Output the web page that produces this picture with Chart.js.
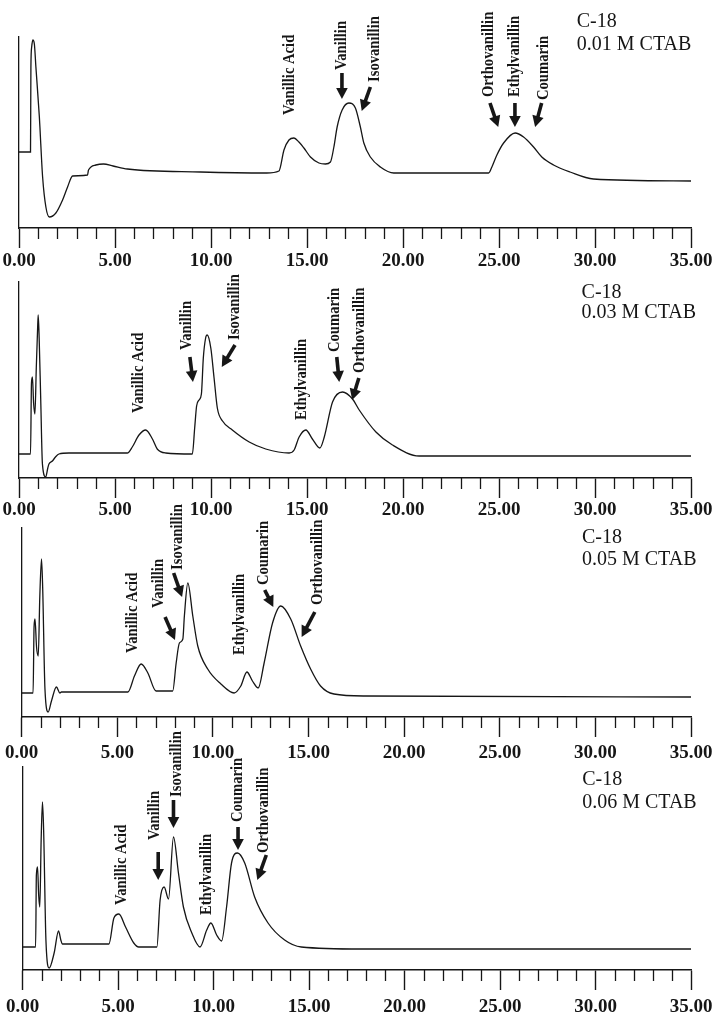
<!DOCTYPE html>
<html><head><meta charset="utf-8">
<script src="https://cdn.jsdelivr.net/npm/chart.js@4.4.1/dist/chart.umd.min.js"></script>
<style>
html,body{margin:0;padding:0;background:#fff;}
#wrap{position:relative;width:720px;height:1018px;overflow:hidden;background:#fff;}
canvas{position:absolute;left:0;}
</style></head><body><div id="wrap">
<canvas id="c1"></canvas><canvas id="c2"></canvas><canvas id="c3"></canvas><canvas id="c4"></canvas>
</div>
<script>
// ---- data (retention time in min, detector signal in arbitrary units) ----
const timeTicks = [0, 5, 10, 15, 20, 25, 30, 35];
const column = 'C-18';
const conditions = ['0.01 M CTAB', '0.03 M CTAB', '0.05 M CTAB', '0.06 M CTAB'];
const signalMax = [191, 196, 189, 203];

const run1 = [[0,76],[0.6,76],[0.62,161],[0.66,181],[0.72,188],[0.8,184],[0.88,161],[1.06,111],[1.23,51],[1.4,21],[1.58,11],[1.92,15],[2.27,28],[2.53,41],[2.79,52],[3.57,53],[3.62,58],[4.0,63],[4.4,64],[4.9,62],[5.65,59],[9.46,56],[12.9,55],[13.54,57],[13.8,78],[14.06,88],[14.32,90],[14.58,86],[14.84,80],[15.18,71],[15.62,65],[15.96,64],[16.22,66],[16.4,81],[16.57,101],[16.83,118],[17.18,125],[17.52,120],[17.78,101],[17.96,85],[18.3,71],[18.82,61],[19.52,55],[22,55],[24.46,55],[24.63,61],[24.89,73],[25.24,85],[25.84,95],[26.28,91],[26.8,81],[27.23,71],[27.84,63],[28.7,56],[29.92,49],[35,47]];
const run2 = [[0,24],[0.6,24],[0.65,95],[0.7,101],[0.76,75],[0.83,64],[0.9,110],[0.97,150],[1.0,163],[1.05,140],[1.13,80],[1.22,14],[1.39,1],[1.5,10],[1.56,14],[1.74,17],[1.9,21],[2.08,24],[2.6,25],[5.64,25],[5.9,31],[6.25,43],[6.6,48],[6.95,39],[7.2,29],[7.64,25],[9.03,24],[9.15,50],[9.25,72],[9.38,78],[9.5,84],[9.6,120],[9.72,140],[9.8,143],[9.99,130],[10.16,100],[10.33,70],[10.6,57],[11.11,48],[11.99,36],[12.85,29],[14.07,25],[14.33,28],[14.59,41],[14.94,48],[15.28,39],[15.67,30],[15.9,41],[16.33,76],[16.85,86],[17.37,79],[17.72,68],[18.59,46],[19.45,33],[20.84,22],[35,22]];
const run3 = [[0,24],[0.6,24],[0.65,90],[0.7,98],[0.78,70],[0.87,61],[0.95,120],[1.04,158],[1.1,130],[1.22,28],[1.39,5],[1.56,16],[1.82,30],[2.0,24],[2.08,25],[5.56,25],[5.9,41],[6.25,53],[6.6,44],[7.03,26],[7.9,26],[8.08,54],[8.25,74],[8.43,78],[8.51,101],[8.69,134],[8.95,101],[9.21,71],[9.73,48],[10.42,33],[11.11,24],[11.46,31],[11.78,45],[12.07,36],[12.37,29],[12.68,54],[13.12,94],[13.55,111],[14.07,98],[14.59,71],[15.11,48],[15.63,31],[16.33,23],[18,21],[35,20]];
const run4 = [[0,23],[0.68,23],[0.72,95],[0.78,103],[0.84,75],[0.9,63],[0.97,130],[1.04,168],[1.1,140],[1.22,30],[1.39,2],[1.65,17],[1.88,39],[2.0,30],[2.08,26],[4.52,26],[4.78,52],[5.04,56],[5.39,43],[5.82,27],[6.08,23],[7.03,23],[7.2,70],[7.41,83],[7.64,71],[7.9,133],[8.16,97],[8.42,63],[8.86,37],[9.29,23],[9.64,40],[9.86,47],[10.16,35],[10.42,29],[10.68,63],[10.94,107],[11.25,117],[11.63,107],[12.15,73],[12.85,47],[13.72,30],[14.59,23],[17.72,21],[35,21]];

// ---- peak label placement (time, signal) ----
const peaks1 = [
  {name:'Vanillic Acid', t:14.11, y:113},
  {name:'Vanillin', t:16.82, y:158, arrow:[16.82,155,16.82,129]},
  {name:'Isovanillin', t:18.54, y:146, arrow:[18.3,141,17.85,117]},
  {name:'Orthovanillin', t:24.44, y:131, arrow:[24.53,125,24.96,101]},
  {name:'Ethylvanillin', t:25.83, y:131, arrow:[25.83,125,25.83,101]},
  {name:'Coumarin', t:27.31, y:128, arrow:[27.22,125,26.88,101]}
];
const peaks2 = [
  {name:'Vanillic Acid', t:6.21, y:65},
  {name:'Vanillin', t:8.73, y:128, arrow:[8.9,121,9.06,96]},
  {name:'Isovanillin', t:11.25, y:138, arrow:[11.25,133,10.56,111]},
  {name:'Ethylvanillin', t:14.72, y:58},
  {name:'Coumarin', t:16.46, y:126, arrow:[16.55,121,16.68,96]},
  {name:'Orthovanillin', t:17.76, y:105, arrow:[17.7,100,17.35,78]}
];
const peaks3 = [
  {name:'Vanillic Acid', t:5.78, y:64},
  {name:'Vanillin', t:7.17, y:109, arrow:[7.5,100,8.02,77]},
  {name:'Isovanillin', t:8.13, y:147, arrow:[7.95,144,8.39,120]},
  {name:'Ethylvanillin', t:11.42, y:62},
  {name:'Coumarin', t:12.64, y:132, arrow:[12.71,127,13.16,110]},
  {name:'Orthovanillin', t:15.5, y:112, arrow:[15.33,105,14.64,80]}
];
const peaks4 = [
  {name:'Vanillic Acid', t:5.17, y:65},
  {name:'Vanillin', t:6.91, y:130, arrow:[7.1,118,7.1,90]},
  {name:'Isovanillin', t:8.04, y:173, arrow:[7.9,170,7.9,142]},
  {name:'Ethylvanillin', t:9.64, y:55},
  {name:'Coumarin', t:11.28, y:148, arrow:[11.28,143,11.28,120]},
  {name:'Orthovanillin', t:12.64, y:117, arrow:[12.76,115,12.29,90]}
];
const condPos = [[29.05,206,183],[29.3,185,165],[29.3,179,157],[29.3,190,167]];

// ---- layout per panel ----
const layoutCfg = [
  {top:0,   height:275, padTop:37, axisH:47, labelPad:2},
  {top:250, height:272, padTop:32, axisH:44, labelPad:1},
  {top:495, height:270, padTop:33, axisH:48, labelPad:5},
  {top:730, height:288, padTop:37, axisH:48, labelPad:6}
];
const runs = [run1, run2, run3, run4];
const peaks = [peaks1, peaks2, peaks3, peaks4];
const INK = '#161616';
const SERIF = '"Liberation Serif", "Times New Roman", serif';

function drawArrow(ctx, x1, y1, x2, y2) {
  const dx = x2 - x1, dy = y2 - y1, L = Math.hypot(dx, dy), ux = dx / L, uy = dy / L;
  const hl = 11, hw = 5.8;
  const bx = x2 - ux * hl, by = y2 - uy * hl;
  ctx.lineWidth = 3.6; ctx.lineCap = 'butt';
  ctx.beginPath(); ctx.moveTo(x1, y1); ctx.lineTo(bx + ux, by + uy); ctx.stroke();
  ctx.beginPath(); ctx.moveTo(x2, y2);
  ctx.lineTo(bx - uy * hw, by + ux * hw); ctx.lineTo(bx + uy * hw, by - ux * hw);
  ctx.closePath(); ctx.fill();
}

const overlay = {
  id: 'overlay',
  afterDraw(chart, args, opts) {
    const {ctx, chartArea, scales: {x, y}} = chart;
    ctx.save();
    ctx.strokeStyle = INK; ctx.fillStyle = INK;
    // minor ticks
    ctx.lineWidth = 1.3;
    for (let v = 0; v <= 35; v++) {
      if (v % 5 === 0) continue;
      const px = Math.round(x.getPixelForValue(v)) + 0.5;
      ctx.beginPath(); ctx.moveTo(px, chartArea.bottom); ctx.lineTo(px, chartArea.bottom + 11); ctx.stroke();
    }
    // peak labels
    for (const a of opts.peaks) {
      const px = x.getPixelForValue(a.t), py = y.getPixelForValue(a.y);
      ctx.save(); ctx.translate(px, py); ctx.rotate(-Math.PI / 2); ctx.scale(0.86, 1);
      ctx.font = 'bold 17px ' + SERIF; ctx.textAlign = 'left'; ctx.textBaseline = 'middle';
      ctx.fillText(a.name, 0, 0); ctx.restore();
      if (a.arrow) {
        const [t1, s1, t2, s2] = a.arrow;
        drawArrow(ctx, x.getPixelForValue(t1), y.getPixelForValue(s1), x.getPixelForValue(t2), y.getPixelForValue(s2));
      }
    }
    // condition label
    const c = opts.cond;
    ctx.font = '20px ' + SERIF; ctx.textAlign = 'left'; ctx.textBaseline = 'middle';
    ctx.fillText(column, x.getPixelForValue(c.pos[0]), y.getPixelForValue(c.pos[1]));
    ctx.fillText(c.text, x.getPixelForValue(c.pos[0]), y.getPixelForValue(c.pos[2]));
    ctx.restore();
  }
};

layoutCfg.forEach((L, i) => {
  const cv = document.getElementById('c' + (i + 1));
  cv.width = 720; cv.height = L.height;
  cv.style.top = L.top + 'px'; cv.style.width = '720px'; cv.style.height = L.height + 'px';
  new Chart(cv, {
    type: 'line',
    data: {
      datasets: [{
        data: runs[i].map(p => ({x: p[0], y: p[1]})),
        borderColor: INK, borderWidth: 1.3, pointRadius: 0, fill: false,
        cubicInterpolationMode: 'monotone'
      }]
    },
    options: {
      responsive: false, animation: false, devicePixelRatio: 1,
      layout: {padding: {top: L.padTop, left: 0, right: 29, bottom: 0}},
      plugins: {
        legend: {display: false}, tooltip: {enabled: false},
        overlay: {peaks: peaks[i], cond: {text: conditions[i], pos: condPos[i]}}
      },
      scales: {
        x: {
          type: 'linear', min: 0, max: 35,
          afterFit: s => { s.height = L.axisH; },
          border: {display: true, color: INK, width: 1.5},
          grid: {display: true, drawOnChartArea: false, drawTicks: true, tickLength: 20, tickWidth: 1.4,
                 tickColor: c => (c.tick && c.tick.value % 5 === 0) ? INK : 'rgba(0,0,0,0)'},
          ticks: {
            stepSize: 1, autoSkip: false, maxRotation: 0, minRotation: 0, padding: L.labelPad,
            color: INK, font: {family: SERIF, size: 19, weight: 'bold'},
            callback: v => timeTicks.includes(v) ? v.toFixed(2) : ''
          }
        },
        y: {
          type: 'linear', min: 0, max: signalMax[i],
          afterFit: s => { s.width = 19; },
          border: {display: true, color: INK, width: 1.3},
          grid: {display: false},
          ticks: {display: false}
        }
      }
    },
    plugins: [overlay]
  });
});
</script></body></html>
